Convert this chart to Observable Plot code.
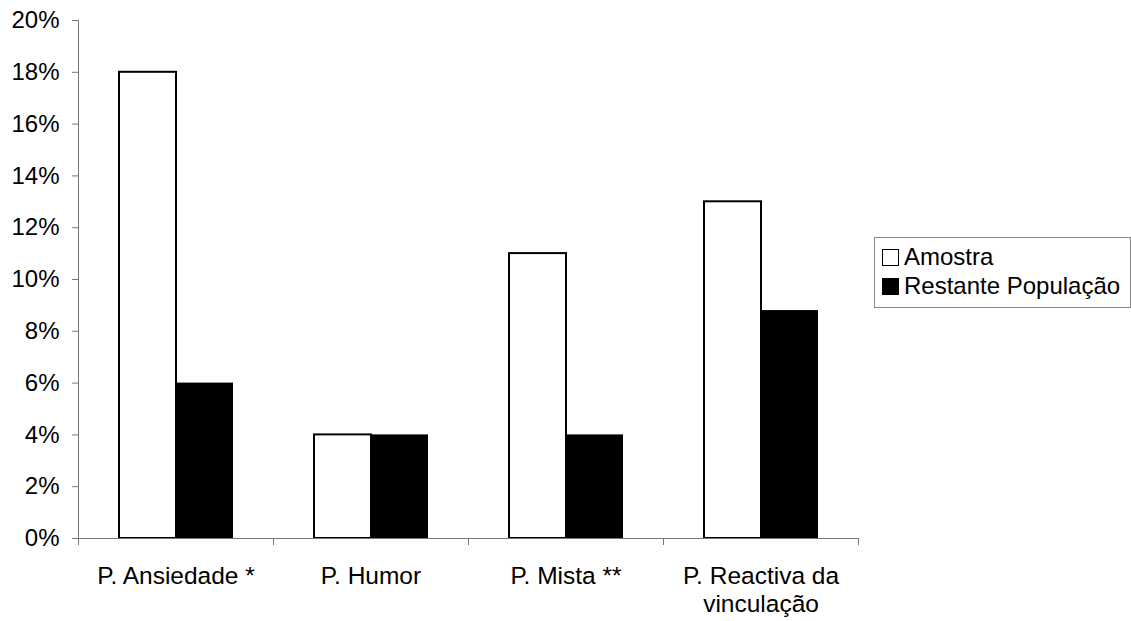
<!DOCTYPE html>
<html><head><meta charset="utf-8">
<script src="https://cdn.jsdelivr.net/npm/d3@7"></script>
<script src="https://cdn.jsdelivr.net/npm/@observablehq/plot@0.6"></script>
<style>
body{margin:0;background:#fff;font-family:"Liberation Sans",Arial,Helvetica,sans-serif;}
#wrap{position:relative;width:1131px;height:621px;}
#legend{position:absolute;left:874px;top:237px;width:257px;height:71px;border:1px solid #888;box-sizing:border-box;font-size:24px;color:#000;}
.item{position:absolute;left:7px;height:28px;line-height:28px;white-space:nowrap;}
.sw{display:inline-block;width:15px;height:15px;border:1.5px solid #000;vertical-align:-1px;margin-right:5px;}
</style></head>
<body><div id="wrap"></div>
<script>
const categories = ["P. Ansiedade *", "P. Humor", "P. Mista **", "P. Reactiva da\nvinculação"];
const series = ["Amostra", "Restante População"];
const amostra = [18, 4, 11, 13];
const restante = [6, 4, 4, 8.8];
const yTicks = [0, 2, 4, 6, 8, 10, 12, 14, 16, 18, 20];

const rowsA = categories.map((c, i) => ({category: c, series: series[0], value: amostra[i]}));
const rowsR = categories.map((c, i) => ({category: c, series: series[1], value: restante[i]}));

const W = 1131, H = 621, mL = 78, mR = 273, mT = 20, mB = 83;
const band = (W - mL - mR) / categories.length;

const chart = Plot.plot({
  width: W, height: H,
  marginLeft: mL, marginRight: mR, marginTop: mT, marginBottom: mB,
  x: {domain: categories, padding: 0, axis: null},
  y: {domain: [0, 20], axis: null},
  style: {fontFamily: '"Liberation Sans", Arial, Helvetica, sans-serif', fontSize: "24px", color: "black", background: "white"},
  marks: [
    Plot.barY(rowsA, {x: "category", y: "value", fill: "white", stroke: "black", strokeWidth: 2, insetLeft: 41, insetRight: 97}),
    Plot.barY(rowsR, {x: "category", y: "value", fill: "black", insetLeft: 98, insetRight: 40}),
    Plot.ruleY([0], {stroke: "#777", strokeWidth: 1}),
    Plot.frame({anchor: "left", stroke: "#777"}),
    Plot.ruleX(categories, {x: d => d, dx: -band / 2, y1: 0, y2: 0, insetBottom: -7, stroke: "#777"}),
    Plot.ruleX(categories.slice(-1), {x: d => d, dx: band / 2, y1: 0, y2: 0, insetBottom: -7, stroke: "#777"}),
    Plot.axisY({ticks: yTicks, tickFormat: d => d + "%", tickSize: 6, tickPadding: 13, stroke: "#777", fill: "black", fontSize: 24, label: null}),
    Plot.axisX({tickSize: 0, tickPadding: 25, fontSize: 24.5, lineHeight: 1.15, fill: "black", label: null})
  ]
});
const wrap = document.getElementById("wrap");
wrap.appendChild(chart);

const legend = document.createElement("div");
legend.id = "legend";
const fills = ["white", "black"];
series.forEach((s, i) => {
  const it = document.createElement("div");
  it.className = "item";
  it.style.top = (5 + i * 29) + "px";
  it.innerHTML = `<span class="sw" style="background:${fills[i]}"></span>${s}`;
  legend.appendChild(it);
});
wrap.appendChild(legend);
</script>
</body></html>
